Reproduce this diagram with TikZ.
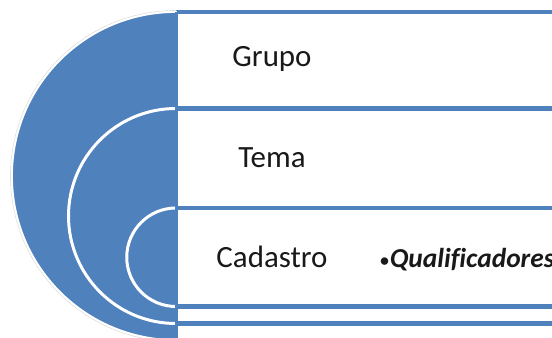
\documentclass[tikz,border=0pt]{standalone}
\usepackage{fontspec}
\setmainfont{Carlito}[Ligatures=NoCommon]
\usetikzlibrary{positioning}

\definecolor{tblue}{HTML}{4F81BD}

\tikzset{
  band/.style={draw=tblue, line width=2.3pt, fill=white},
  half/.style={fill=tblue, draw=white, line width=1.7pt},
  label/.style={font=\fontsize{17.6}{20}\selectfont, text=black!90, inner sep=0pt, anchor=base},
}

\begin{document}
\begin{tikzpicture}[x=0.02cm, y=0.02cm]
 \useasboundingbox (0,0) rectangle (552,-338);
 \clip (0,0) rectangle (552,-338);
 % outer level
 \draw[band] (176,-12) rectangle (570,-340);
 \draw[draw=black!12, line width=0.4pt] (176,-10.5) arc[start angle=90, end angle=270, radius=165.5];
 \draw[fill=tblue, draw=white, line width=1pt] (176,-12) arc[start angle=90, end angle=270, radius=164] -- cycle;
 % middle level
 \draw[band] (176,-108.5) rectangle (570,-323.5);
 \draw[half] (176,-108.5) arc[start angle=90, end angle=270, radius=107.5];
 % inner level
 \draw[band] (176,-208) rectangle (570,-306.5);
 \draw[half] (176,-208) arc[start angle=90, end angle=270, radius=49.25];
 \fill[tblue] (176,-12) ++(-1.5,0) rectangle (177.5,-338);
 %
 \node[label] (grupo) at (272,-67) {Grupo};
 \node[label] (tema) at (272,-167) {Tema};
 \node[label] (cadastro) at (272,-267) {Cadastro};
 \node[label, anchor=base west, font=\fontsize{15.6}{18}\selectfont] (qual) at (379,-267)
   {{\fontsize{12}{12}\selectfont•}\textbf{\textit{Qualificadores}}};
\end{tikzpicture}
\end{document}
